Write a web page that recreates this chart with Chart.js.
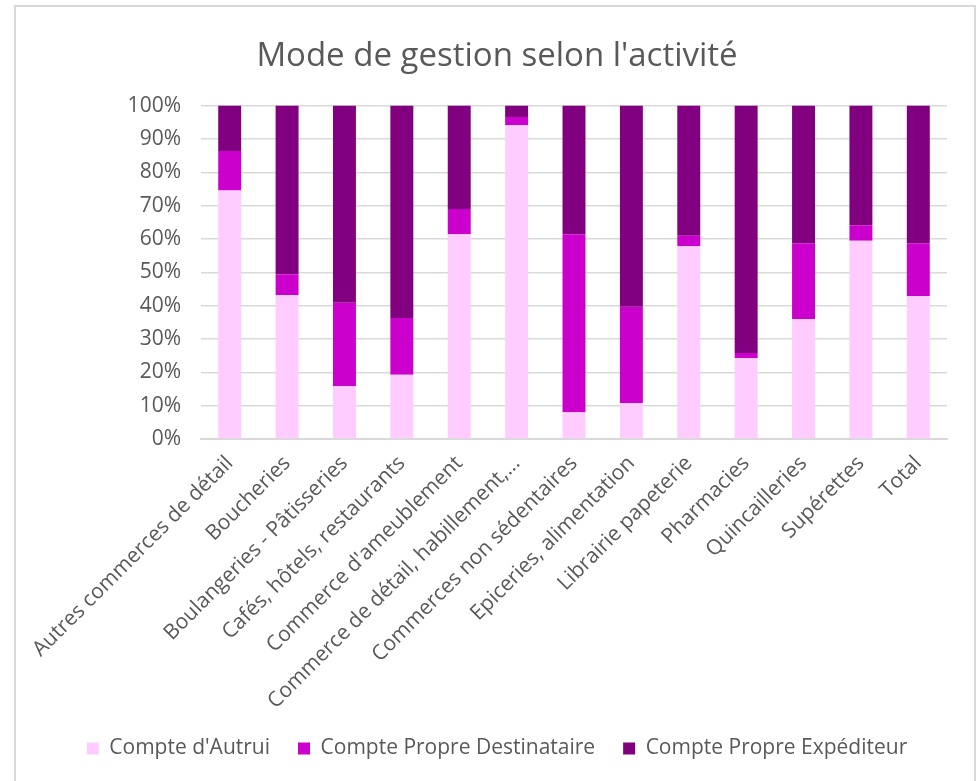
<!DOCTYPE html>
<html>
<head>
<meta charset="utf-8">
<script src="https://cdn.jsdelivr.net/npm/chart.js@4.4.0/dist/chart.umd.min.js"></script>
<style>
  html, body { margin: 0; padding: 0; background: #fff; overflow: hidden; }
  #wrap { width: 976px; height: 781px; position: relative; }
</style>
</head>
<body>
<div id="wrap"><canvas id="barChart" width="976" height="781"></canvas></div>
<script>
// activités
var categories = [
  'Autres commerces de détail', 'Boucheries', 'Boulangeries - Pâtisseries',
  'Cafés, hôtels, restaurants', "Commerce d'ameublement", 'Commerce de détail, habillement,...',
  'Commerces non sédentaires', 'Epiceries, alimentation', 'Librairie papeterie',
  'Pharmacies', 'Quincailleries', 'Supérettes', 'Total'
];
// parts en %
var compteAutrui       = [74.5, 43.2, 15.8, 19.3, 61.4, 94.2, 8.0, 10.8, 57.9, 24.3, 35.9, 59.5, 42.9];
var propreDestinataire = [11.9, 6.2, 25.1, 17.0, 7.6, 2.4, 53.4, 28.9, 3.1, 1.5, 22.8, 4.6, 15.8];
var propreExpediteur   = [13.6, 50.6, 59.1, 63.7, 31.0, 3.4, 38.6, 60.3, 39.0, 74.2, 41.3, 35.9, 41.3];
var yTicks = [0, 10, 20, 30, 40, 50, 60, 70, 80, 90, 100];

var txt = '#595959';
var grid = '#d9d9d9';

// fond blanc + cadre gris
var cadre = {
  id: 'cadre',
  beforeDraw: function (chart) {
    var ctx = chart.ctx;
    ctx.save();
    ctx.fillStyle = '#fff';
    ctx.fillRect(0, 0, chart.width, chart.height);
    ctx.strokeStyle = grid;
    ctx.lineWidth = 2;
    ctx.strokeRect(15, 6, 960, 800);
    ctx.restore();
  }
};

var barChartData = {
  labels: categories,
  datasets: [
    { label: "Compte d'Autrui", data: compteAutrui, backgroundColor: '#ffccff' },
    { label: 'Compte Propre Destinataire', data: propreDestinataire, backgroundColor: '#cc00cc' },
    { label: 'Compte Propre Expéditeur', data: propreExpediteur, backgroundColor: '#800080' }
  ]
};

new Chart(document.getElementById('barChart').getContext('2d'), {
  type: 'bar',
  data: barChartData,
  plugins: [cadre],
  options: {
    responsive: false,
    animation: false,
    barPercentage: 0.4,
    categoryPercentage: 1,
    layout: { padding: { top: 27, left: 31, right: 13, bottom: 12 } },
    plugins: {
      title: {
        display: true,
        text: "Mode de gestion selon l'activité",
        color: txt,
        font: { family: 'Open Sans', size: 33, weight: 'normal' },
        padding: { top: 10, bottom: 29 }
      },
      legend: {
        position: 'bottom',
        labels: {
          color: txt,
          font: { family: 'Open Sans', size: 21 },
          boxWidth: 12,
          boxHeight: 12,
          padding: 28
        }
      },
      tooltip: { enabled: false }
    },
    scales: {
      x: {
        stacked: true,
        afterFit: function (axis) { axis.height = 271; },
        grid: { display: false },
        border: { display: true, color: grid, width: 2 },
        ticks: {
          color: txt,
          font: { family: 'Open Sans', size: 21 },
          minRotation: 45,
          maxRotation: 45,
          autoSkip: false,
          padding: 4
        }
      },
      y: {
        stacked: true,
        min: 0,
        max: 100,
        afterBuildTicks: function (axis) {
          axis.ticks = yTicks.map(function (v) { return { value: v }; });
        },
        afterFit: function (axis) { axis.width = 170; },
        grid: { color: grid, lineWidth: 1.5, drawTicks: false },
        border: { display: false },
        ticks: {
          color: txt,
          font: { family: 'Open Sans', size: 21 },
          padding: 20,
          callback: function (v) { return v + '%'; }
        }
      },
      // marge droite vide
      yDroite: {
        type: 'linear',
        position: 'right',
        afterFit: function (axis) { axis.width = 16; },
        grid: { display: false },
        border: { display: false },
        ticks: { display: false }
      }
    }
  }
});
</script>
</body>
</html>
